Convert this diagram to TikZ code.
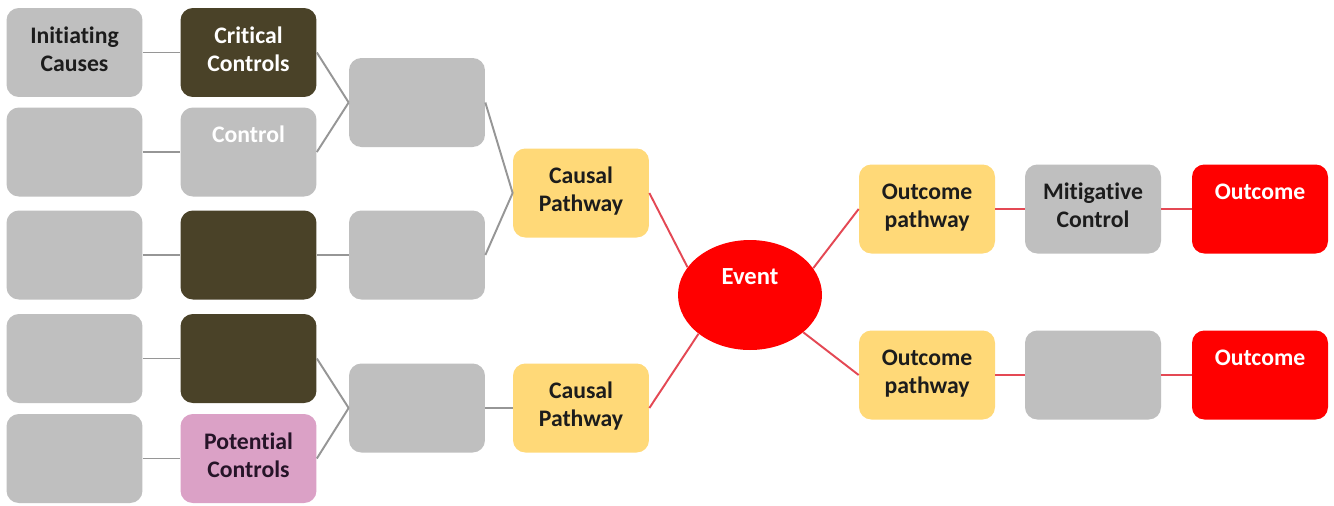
\documentclass[tikz,border=0pt]{standalone}
\usepackage{fontspec}
\setmainfont[Ligatures=NoCommon]{Carlito}
\usepackage{tikz}
\usetikzlibrary{shapes.geometric}
\definecolor{cGray}{RGB}{150,150,150}
\definecolor{cFillGray}{RGB}{191,191,191}
\definecolor{cDark}{RGB}{74,66,40}
\definecolor{cFillYellow}{RGB}{255,217,120}
\definecolor{cFillPink}{RGB}{219,161,198}
\definecolor{cRed}{RGB}{255,0,0}
\definecolor{cRedLine}{RGB}{228,72,84}
\definecolor{cText}{RGB}{28,28,28}
\definecolor{cTextPink}{RGB}{38,20,40}
\tikzset{
  %% rounded boxes
  box/.style={rectangle, rounded corners=7pt, minimum width=2.72cm,
              minimum height=1.78cm, inner sep=2pt, align=center,
              text depth=4pt,
              font=\bfseries\fontsize{13.5}{16}\selectfont, text=cText},
  boxG/.style={box, fill=cFillGray},
  boxD/.style={box, fill=cDark, text=white},
  boxY/.style={box, fill=cFillYellow},
  boxP/.style={box, fill=cFillPink, text=cTextPink},
  boxR/.style={box, fill=cRed, text=white},
  %% central event
  eventnode/.style={ellipse, fill=cRed, text=white, minimum width=2.88cm,
                    minimum height=2.2cm, inner sep=0pt, align=center,
                    font=\bfseries\fontsize{14}{16}\selectfont},
  %% connectors
  greyline/.style={draw=cGray, line width=1.1pt},
  redline/.style={draw=cRedLine, line width=1.1pt},
}
\begin{document}
\begin{tikzpicture}[x=0.02cm, y=-0.02cm]

\useasboundingbox[fill=white] (0,0) rectangle (1334,505);

%% ============================================================
%%  COLUMN POSITIONS
%% ============================================================
\def\xa{74.5}
\def\xb{248.5}
\def\xc{417}
\def\xd{581}
\def\xe{750}
\def\xf{927}
\def\xg{1093}
\def\xh{1260}

%% ----- Initiating causes -----
\node[boxG] (ic1) at (\xa, 52.5)  {Initiating\\Causes};
\node[boxG] (ic2) at (\xa, 152)   {};
\node[boxG] (ic3) at (\xa, 255)   {};
\node[boxG] (ic4) at (\xa, 358.5) {};
\node[boxG] (ic5) at (\xa, 458.5) {};

%% ----- Controls -----
\node[boxD] (cc1) at (\xb, 52.5)  {Critical\\Controls};
\node[boxG, text=white] (cc2) at (\xb, 152) {Control\\\strut};
\node[boxD] (cc3) at (\xb, 255)   {};
\node[boxD] (cc4) at (\xb, 358.5) {};
\node[boxP] (cc5) at (\xb, 458.5) {Potential\\Controls};

%% ----- Merge boxes -----
\node[boxG] (mg1) at (\xc, 102.5) {};
\node[boxG] (mg2) at (\xc, 255)   {};
\node[boxG] (mg3) at (\xc, 408)   {};

%% ----- Causal pathways -----
\node[boxY] (cp1) at (\xd, 193) {Causal\\Pathway};
\node[boxY] (cp2) at (\xd, 408) {Causal\\Pathway};

%% ----- Event -----
\node[eventnode] (ev) at (\xe, 295) {Event\\\strut};

%% ----- Outcome side -----
\node[boxY] (op1) at (\xf, 209) {Outcome\\pathway};
\node[boxY] (op2) at (\xf, 375) {Outcome\\pathway};
\node[boxG] (mc1) at (\xg, 209) {Mitigative\\Control};
\node[boxG] (mc2) at (\xg, 375) {};
\node[boxR] (oc1) at (\xh, 209) {Outcome\\\strut};
\node[boxR] (oc2) at (\xh, 375) {Outcome\\\strut};

%% ============================================================
%%  Grey connectors (cause side)
%% ============================================================
\foreach \i in {1,...,5} {
  \draw[greyline] (ic\i) -- (cc\i);
}
\draw[greyline] (cc1.east) -- (mg1.west);
\draw[greyline] (cc2.east) -- (mg1.west);
\draw[greyline] (cc3) -- (mg2);
\draw[greyline] (cc4.east) -- (mg3.west);
\draw[greyline] (cc5.east) -- (mg3.west);
\draw[greyline] (mg1.east) -- (cp1.west);
\draw[greyline] (mg2.east) -- (cp1.west);
\draw[greyline] (mg3) -- (cp2);

%% ============================================================
%%  Red connectors (event and outcome side)
%% ============================================================
\draw[redline] (cp1.east) -- (ev.156);
\draw[redline] (cp2.east) -- (ev.217);
\draw[redline] (ev.23)  -- (op1.west);
\draw[redline] (ev.325) -- (op2.west);
\draw[redline] (op1) -- (mc1);
\draw[redline] (mc1) -- (oc1);
\draw[redline] (op2) -- (mc2);
\draw[redline] (mc2) -- (oc2);

\end{tikzpicture}
\end{document}
